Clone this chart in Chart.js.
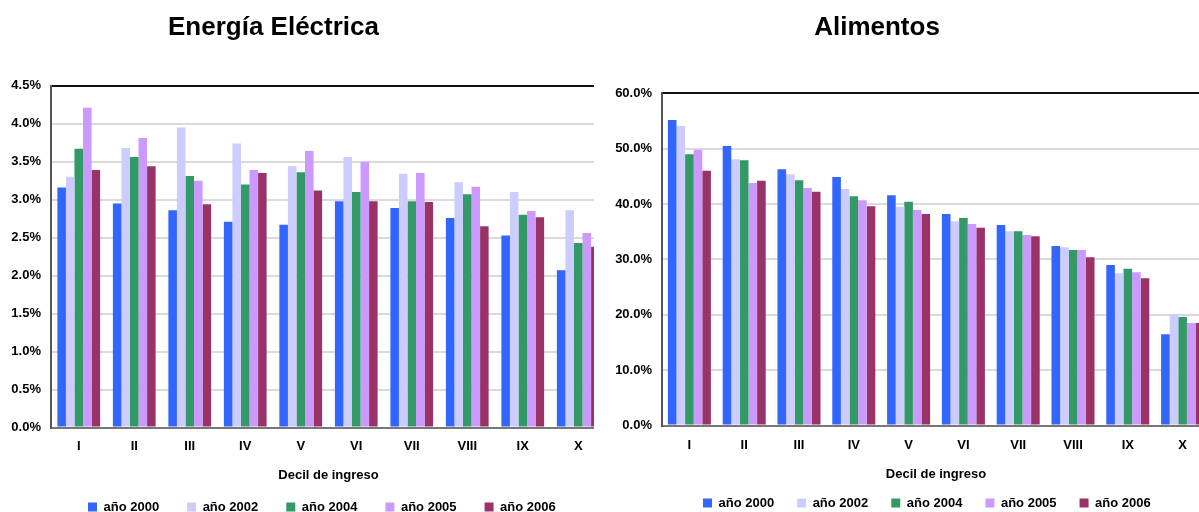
<!DOCTYPE html>
<html lang="es">
<head>
<meta charset="utf-8">
<title>Gasto por decil de ingreso: Energía Eléctrica y Alimentos</title>
<script src="https://cdn.jsdelivr.net/npm/chart.js@4.4.1/dist/chart.umd.min.js"></script>
<style>
  html, body { margin: 0; padding: 0; background: #fff; width: 1199px; height: 512px; overflow: hidden; }
  .panel { position: absolute; top: 0; height: 512px; overflow: hidden; }
  #panelEnergia { left: 0; width: 594px; }
  #panelAlimentos { left: 598px; width: 601px; }
  .panel canvas { position: absolute; left: 0; top: 0; }
  .titulo {
    position: absolute; top: 11px; transform: translateX(-50%);
    font: bold 26px "Liberation Sans", Arial, sans-serif; line-height: 30px;
    white-space: nowrap; color: #000;
  }
</style>
</head>
<body>
<div id="panelEnergia" class="panel"><canvas id="energia" width="606" height="534"></canvas></div>
<div id="panelAlimentos" class="panel"><canvas id="alimentos" width="612" height="528"></canvas></div>
<div class="titulo" style="left:273.5px">Energía Eléctrica</div>
<div class="titulo" style="left:877px">Alimentos</div>

<script>
// Deciles de ingreso y series por año
const deciles = ['I', 'II', 'III', 'IV', 'V', 'VI', 'VII', 'VIII', 'IX', 'X'];
const seriesNames = ['año 2000', 'año 2002', 'año 2004', 'año 2005', 'año 2006'];
const seriesColors = ['#3366FF', '#CCCCFF', '#339966', '#CC99FF', '#993366'];

// Energía eléctrica (% del gasto)
const energia2000 = [3.16, 2.95, 2.86, 2.71, 2.67, 2.98, 2.89, 2.76, 2.53, 2.07];
const energia2002 = [3.30, 3.68, 3.95, 3.74, 3.44, 3.56, 3.34, 3.23, 3.10, 2.86];
const energia2004 = [3.67, 3.56, 3.31, 3.20, 3.36, 3.10, 2.98, 3.07, 2.80, 2.43];
const energia2005 = [4.21, 3.81, 3.25, 3.39, 3.64, 3.50, 3.35, 3.17, 2.85, 2.56];
const energia2006 = [3.39, 3.44, 2.94, 3.35, 3.12, 2.98, 2.97, 2.65, 2.77, 2.38];

// Alimentos (% del gasto)
const alimentos2000 = [55.2, 50.5, 46.3, 44.9, 41.6, 38.2, 36.2, 32.4, 29.0, 16.5];
const alimentos2002 = [54.1, 48.1, 45.4, 42.7, 39.5, 36.9, 35.1, 32.2, 27.5, 20.1];
const alimentos2004 = [49.0, 47.9, 44.3, 41.4, 40.4, 37.5, 35.1, 31.7, 28.3, 19.6];
const alimentos2005 = [49.8, 43.8, 42.9, 40.7, 38.9, 36.4, 34.4, 31.7, 27.7, 18.5];
const alimentos2006 = [46.0, 44.2, 42.2, 39.6, 38.2, 35.7, 34.2, 30.4, 26.6, 18.5];

// Escalas del eje vertical
const energiaEje = { max: 4.5, step: 0.5 };
const alimentosEje = { max: 60, step: 10 };

Chart.defaults.font.family = '"Liberation Sans", Arial, sans-serif';
Chart.defaults.color = '#000';

// Coloca la leyenda en una fila fija bajo el título del eje
const legendPlace = {
  id: 'legendPlace',
  afterLayout(chart, args, opts) {
    const lg = chart.legend;
    if (!lg) return;
    const pad = lg.options.labels.padding;
    const h = lg.bottom - lg.top;
    lg.left = opts.x - pad;
    lg.right = lg.left + 700;
    lg.top = opts.rowY - 6.5 - pad;
    lg.bottom = lg.top + h;
  }
};

const boldFont = { size: 13, weight: 'bold' };

function buildChart(canvasId, series, eje, cfg) {
  return new Chart(document.getElementById(canvasId), {
    type: 'bar',
    data: {
      labels: deciles,
      datasets: series.map((vals, i) => ({
        label: seriesNames[i],
        data: vals,
        backgroundColor: seriesColors[i],
        borderWidth: 0,
        categoryPercentage: cfg.groupShare,
        barPercentage: 1
      }))
    },
    options: {
      responsive: false,
      animation: false,
      events: [],
      layout: { padding: { top: cfg.top, left: 0, right: 0, bottom: cfg.bottom } },
      plugins: {
        title: { display: false },
        tooltip: { enabled: false },
        legend: {
          position: 'bottom',
          align: 'start',
          fullSize: false,
          labels: { boxWidth: 9, boxHeight: 9, padding: cfg.legendGap, font: boldFont, color: '#000' }
        },
        legendPlace: { x: cfg.legendX, rowY: cfg.legendY }
      },
      scales: {
        x: {
          position: 'bottom',
          z: 1,
          grid: { display: false, drawTicks: false },
          border: { display: true, color: '#777', width: 2 },
          ticks: { padding: cfg.tickPad, font: boldFont, color: '#000', maxRotation: 0, autoSkip: false },
          title: { display: true, text: 'Decil de ingreso', font: boldFont, color: '#000',
                   padding: { top: 0, bottom: 0 } },
          afterFit: s => { s.height = cfg.axisHeight; }
        },
        marco: {
          type: 'category',
          labels: deciles,
          position: 'top',
          z: 1,
          grid: { display: false, drawTicks: false },
          ticks: { display: false },
          border: { display: true, color: '#111', width: 2 }
        },
        y: {
          min: 0,
          max: eje.max,
          ticks: {
            stepSize: eje.step,
            padding: 10,
            font: boldFont,
            color: '#000',
            callback: v => v.toFixed(1) + '%'
          },
          grid: { color: '#dadada', lineWidth: 2, drawTicks: false },
          border: { display: true, color: '#555', width: 2 },
          afterFit: s => { s.width = cfg.axisWidth; }
        }
      }
    },
    plugins: [legendPlace]
  });
}

buildChart('energia',
  [energia2000, energia2002, energia2004, energia2005, energia2006],
  energiaEje,
  { groupShare: 0.77, top: 85.7, bottom: 0.2, axisWidth: 51, axisHeight: 55.2, tickPad: 11,
    legendGap: 28, legendX: 88, legendY: 507 });

buildChart('alimentos',
  [alimentos2000, alimentos2002, alimentos2004, alimentos2005, alimentos2006],
  alimentosEje,
  { groupShare: 0.785, top: 93.3, bottom: 0.2, axisWidth: 64, axisHeight: 56.3, tickPad: 11.7,
    legendGap: 23, legendX: 105, legendY: 503 });
</script>
</body>
</html>
